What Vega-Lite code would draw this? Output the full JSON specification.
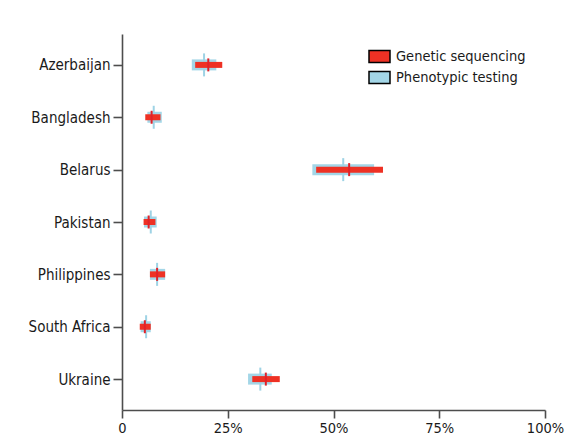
{
  "$schema": "https://vega.github.io/schema/vega-lite/v6.json",
  "width": 423,
  "height": 376,
  "autosize": "none",
  "padding": {"left": 122, "top": 34, "right": 29, "bottom": 33},
  "background": "white",
  "config": {
    "view": {"stroke": null},
    "font": "DejaVu Sans Condensed, Lato, sans-serif",
    "axis": {"labelFont": "DejaVu Sans Condensed, Lato, sans-serif", "labelColor": "#1a1a1a", "domainColor": "#4d4d4d", "tickColor": "#4d4d4d", "domainWidth": 1.6, "tickWidth": 1.6, "grid": false, "title": null},
    "legend": {"labelFont": "DejaVu Sans Condensed, Lato, sans-serif"}
  },
  "data": {
    "values": [
      {"country": "Azerbaijan", "method": "Phenotypic testing", "lo": 16.5, "est": 19.4, "hi": 22.3},
      {"country": "Azerbaijan", "method": "Genetic sequencing", "lo": 17.3, "est": 20.4, "hi": 23.7},
      {"country": "Bangladesh", "method": "Phenotypic testing", "lo": 6.0, "est": 7.5, "hi": 9.4},
      {"country": "Bangladesh", "method": "Genetic sequencing", "lo": 5.5, "est": 7.0, "hi": 9.1},
      {"country": "Belarus", "method": "Phenotypic testing", "lo": 45.0, "est": 52.3, "hi": 59.6},
      {"country": "Belarus", "method": "Genetic sequencing", "lo": 45.9, "est": 53.7, "hi": 61.7},
      {"country": "Pakistan", "method": "Phenotypic testing", "lo": 5.2, "est": 6.8, "hi": 8.2},
      {"country": "Pakistan", "method": "Genetic sequencing", "lo": 5.1, "est": 6.3, "hi": 7.9},
      {"country": "Philippines", "method": "Phenotypic testing", "lo": 6.6, "est": 8.3, "hi": 10.2},
      {"country": "Philippines", "method": "Genetic sequencing", "lo": 6.6, "est": 8.3, "hi": 10.2},
      {"country": "South Africa", "method": "Phenotypic testing", "lo": 4.4, "est": 5.7, "hi": 6.8},
      {"country": "South Africa", "method": "Genetic sequencing", "lo": 4.2, "est": 5.4, "hi": 6.8},
      {"country": "Ukraine", "method": "Phenotypic testing", "lo": 29.8, "est": 32.7, "hi": 35.4},
      {"country": "Ukraine", "method": "Genetic sequencing", "lo": 30.8, "est": 34.0, "hi": 37.3}
    ]
  },
  "encoding": {
    "y": {
      "field": "country", "type": "nominal", "sort": null,
      "scale": {"type": "point", "padding": 0.59},
      "axis": {"tickSize": 9, "labelPadding": 3, "labelFontSize": 15}
    }
  },
  "layer": [
    {
      "transform": [{"filter": "datum.method == 'Phenotypic testing'"}],
      "mark": {"type": "bar", "size": 11},
      "encoding": {
        "x": {"field": "lo", "type": "quantitative",
          "scale": {"domain": [0, 100], "nice": false},
          "axis": {"values": [0, 25, 50, 75, 100], "tickSize": 8, "labelPadding": 3, "labelFontSize": 14.5, "labelExpr": "datum.value == 0 ? '0' : datum.value + '%'", "labelFlush": false}},
        "x2": {"field": "hi"},
        "color": {"field": "method", "type": "nominal",
          "scale": {"domain": ["Genetic sequencing", "Phenotypic testing"], "range": ["#EE3124", "#A3D6E7"]},
          "legend": {"title": null, "orient": "none", "legendX": 246, "legendY": 11, "symbolType": "M-1,-0.57H1V0.57H-1Z", "symbolSize": 441, "symbolStrokeColor": "black", "symbolStrokeWidth": 1.5, "symbolOpacity": 1, "labelFontSize": 14.5, "labelColor": "#1a1a1a", "labelOffset": 5, "rowPadding": 0, "padding": 0}}
      }
    },
    {
      "transform": [{"filter": "datum.method == 'Phenotypic testing'"}],
      "mark": {"type": "tick", "size": 23, "thickness": 2, "color": "#9ED3E5", "opacity": 1},
      "encoding": {"x": {"field": "est", "type": "quantitative"}}
    },
    {
      "transform": [{"filter": "datum.method == 'Genetic sequencing'"}],
      "mark": {"type": "bar", "size": 6},
      "encoding": {
        "x": {"field": "lo", "type": "quantitative"},
        "x2": {"field": "hi"},
        "color": {"field": "method", "type": "nominal"}
      }
    },
    {
      "transform": [{"filter": "datum.method == 'Genetic sequencing'"}],
      "mark": {"type": "tick", "size": 13, "thickness": 2, "color": "#E0222A", "opacity": 1},
      "encoding": {"x": {"field": "est", "type": "quantitative"}}
    }
  ]
}
